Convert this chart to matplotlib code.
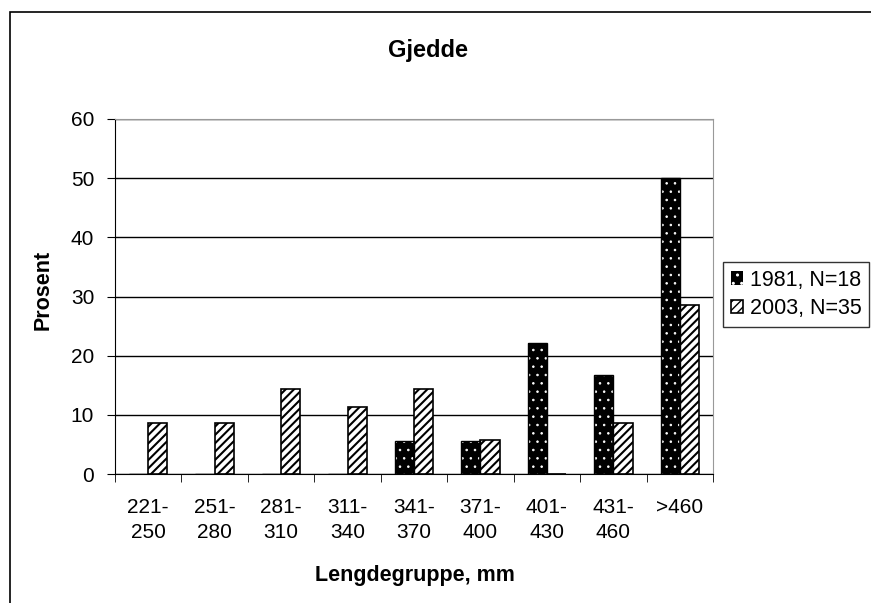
import matplotlib
matplotlib.use("Agg")
import matplotlib.pyplot as plt
import numpy as np
from matplotlib.patches import Rectangle

plt.rcParams['font.family'] = ['Liberation Sans', 'DejaVu Sans']

categories = ["221-\n250", "251-\n280", "281-\n310", "311-\n340", "341-\n370",
              "371-\n400", "401-\n430", "431-\n460", ">460"]
vals_1981 = [0, 0, 0, 0, 5.6, 5.6, 22.2, 16.7, 50.0]
vals_2003 = [8.6, 8.6, 14.3, 11.4, 14.3, 5.7, 0, 8.6, 28.6]
labels = ["1981, N=18", "2003, N=35"]
yticks = [0, 10, 20, 30, 40, 50, 60]

W, H = 871, 603
fig = plt.figure(figsize=(W/100, H/100), dpi=100)
# outer chart frame (bottom and right edges cut off)
fig.patches.append(Rectangle((10/W, -0.1), 1.1, 1.1 - 12/H, transform=fig.transFigure,
                             fill=False, edgecolor='black', linewidth=1.2))

ax = fig.add_axes([115/W, 1 - 474/H, (713-115)/W, (474-119)/H])
x = np.arange(len(categories))
w = 0.29

with plt.rc_context({'hatch.linewidth': 0.6}):
    b1 = ax.bar(x - w/2, vals_1981, w, facecolor='black', edgecolor='white', hatch='..',
                linewidth=0, zorder=3)
ax.bar(x - w/2, vals_1981, w, fill=False, edgecolor='black', linewidth=1.0, zorder=4)
with plt.rc_context({'hatch.linewidth': 1.5}):
    b2 = ax.bar(x + w/2, vals_2003, w, facecolor='white', edgecolor='black', hatch='////',
                linewidth=1.2, zorder=3)

ax.set_xlim(-0.5, len(categories) - 0.5)
ax.set_ylim(0, 60)
ax.set_yticks(yticks)
ax.set_yticklabels([str(v) for v in yticks], fontsize=15)
ax.yaxis.grid(True, color='black', linewidth=1.0, zorder=0)
ax.set_axisbelow(True)
ax.set_xticks(x)
ax.set_xticklabels(categories, fontsize=15, linespacing=1.45)
ax.tick_params(axis='x', length=0, pad=17)
ax.set_xticks(np.arange(len(categories) + 1) - 0.5, minor=True)
ax.tick_params(axis='x', which='minor', length=6, color='black', direction='out')
ax.tick_params(axis='y', length=6, direction='out', pad=9)
for s in ['top', 'right']:
    ax.spines[s].set_color('#999999')
ax.spines['left'].set_color('black')
ax.spines['bottom'].set_color('black')

fig.text(43/W, 1 - 290/H, "Prosent", ha='center', va='center', rotation=90,
         fontsize=15.5, fontweight='bold')
fig.text(415/W, 1 - 576/H, "Lengdegruppe, mm", ha='center', va='center',
         fontsize=15.5, fontweight='bold')
fig.text(428/W, 1 - 50/H, "Gjedde", ha='center', va='center', fontsize=17, fontweight='bold')

leg = fig.legend([b1, b2], labels, loc='upper left', bbox_to_anchor=(723/W, 1 - 262/H),
                 fontsize=15.5, frameon=True, fancybox=False, edgecolor='black',
                 handlelength=0.6, handleheight=0.6, handletextpad=0.3, borderpad=0.35,
                 labelspacing=0.35, borderaxespad=0)
leg.get_frame().set_linewidth(1.0)

fig.savefig("out.png", dpi=100)
